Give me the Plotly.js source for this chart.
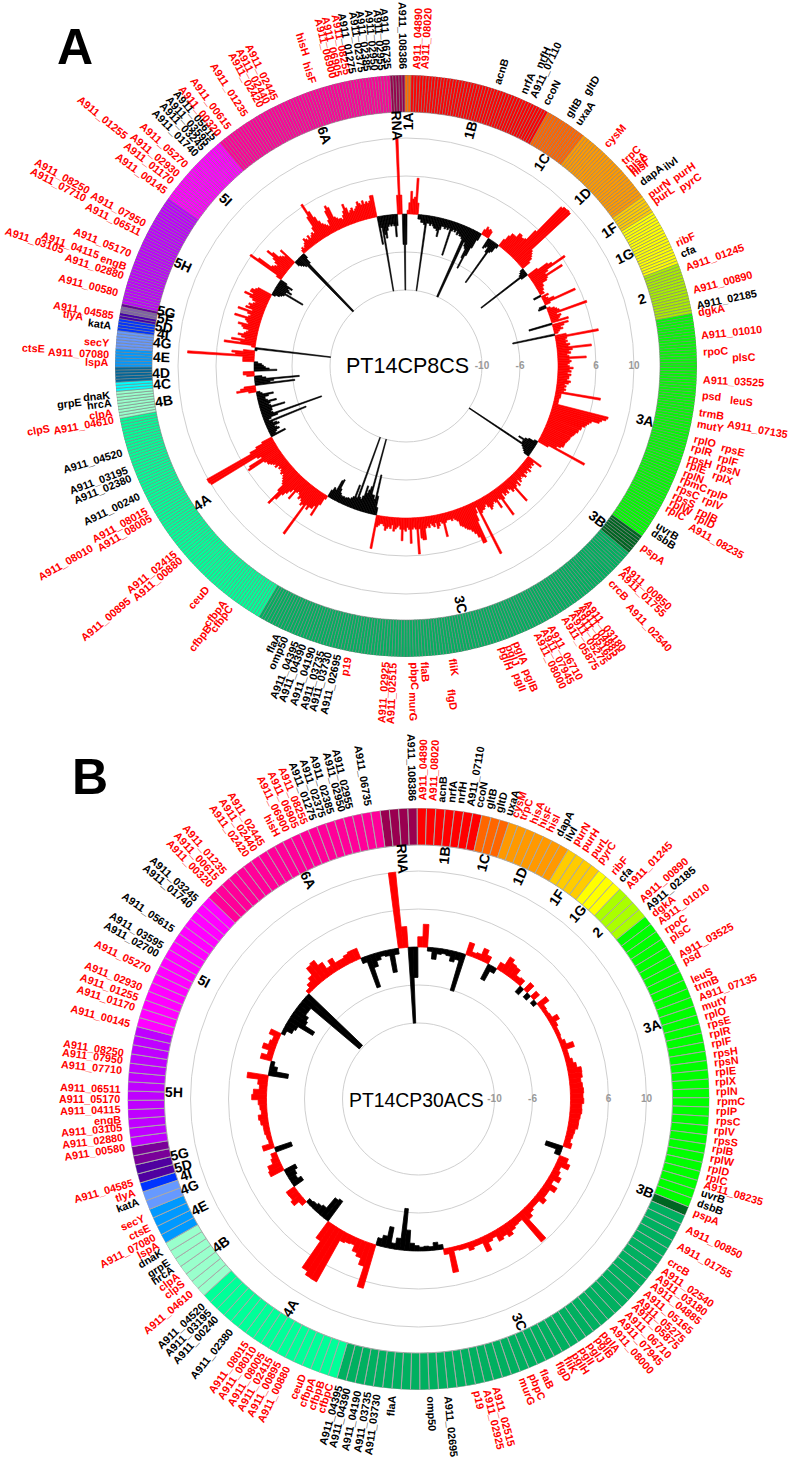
<!DOCTYPE html>
<html><head><meta charset="utf-8">
<script src="https://cdn.plot.ly/plotly-3.0.1.min.js"></script>
<style>html,body{margin:0;padding:0;background:#fff}#chart{width:790px;height:1460px}</style>
</head><body><div id="chart"></div>
<script>
// ---------- Panel A data ----------
const categoriesA=["RNA","1A","1B","1C","1D","1F","1G","2","3A","3B","3C","4A","4B","4C","4D","4E","4G","4I","5D","5F","5G","5H","5I","6A"];
const countsA=[5,2,47,14,28,6,19,17,77,7,134,82,9,3,5,6,6,4,2,2,1,38,25,61];
const colorsA=["#99004d","#ff6a00","#ff0000","#ff6600","#ff9900","#ffcc00","#ffff00","#aaee00","#00ff00","#006622","#00b060","#00ff99","#99ffcc","#00ffff","#006699","#0099ff","#6699ff","#0033ff","#4400aa","#8060a8","#660099","#bf00ff","#ff00ff","#ff0099"];
const catLabelsA=["RNA","1A","1B","1C","1D","1F","1G","2","3A","3B","3C","4A","4B","4C","4D","4E","4G","4I","5D","5F","5G","5H","5I","6A"];
const catAnglesA=[-2.2,.5,15.2,33.7,46.2,56.2,63.2,74.1,102.8,128.5,167,236.2,261.8,265.8,268.4,272.1,275.4,277.4,279.1,281,282.7,294.4,312.8,340.6];
const foldA=[
.5,2,.5,-.8,-2,-.8,.1,.3,.6,.4,
.45,.95,.3,-.12,-.12,-.2,-.2,-.25,-2,-.2,
-.2,-.25,-.2,-.25,-.3,-.3,-.35,-.5,-.3,-.2,
-.2,-.25,-.2,-.25,-.2,-.93,-.25,-.2,-.25,-.2,
-.3,-.25,-.3,-.3,-.35,-2,-2,-.4,-.5,-.55,
-.8,-1.09,-.7,-.45,-.2,.15,.25,.2,.23,.2,
-.3,-.25,-.2,-.35,-1.3,-.3,-.25,-.1,.22,.37,
.47,.47,.47,.6,.6,.55,.56,.6,.93,1.85,
1.9,1.9,1.92,1.9,.5,.45,.4,.35,.25,-.1,
-.15,-.2,-1.5,-.2,.3,.6,.7,1.08,.5,.4,
.89,.4,.35,.2,.2,.15,.15,.1,.12,-.21,
.2,.1,.15,.3,.89,.15,-.18,-.22,.1,.2,
.25,.3,1.05,.2,.3,.25,.2,.46,-.63,.43,
.3,.2,.25,.15,.1,-1.13,.3,1.15,.3,.25,
.3,.25,.35,.3,.91,.4,.3,.35,.25,.3,
.75,.3,.35,.3,.25,.3,.4,.3,.35,.25,
.35,.3,.3,.25,.35,.3,.2,.25,.2,.25,
.2,1.19,.15,.15,.15,.12,.12,.12,.12,1.49,
1.45,1.35,1.3,1.1,1.05,1,.97,.9,.9,.85,
.85,.8,.78,.75,.72,.72,.7,.68,.66,.66,
.66,.6,.5,1.36,.3,-.1,-.25,-.33,-.5,-.35,
-.35,-2,-.3,-.25,-.2,-.15,.43,.2,.25,.2,
.25,.2,.3,.2,.25,.2,.3,.25,.2,.25,
.3,.2,.35,.25,.3,.76,.3,.35,.25,.2,
.3,.25,.3,.2,.35,.83,.3,.25,.5,.3,
.25,.3,.35,.4,.3,.2,.25,.3,.3,.35,
1.53,.15,.3,.5,1.09,1.09,.9,.78,.7,.63,
.6,.55,.49,.45,.3,.25,.2,.25,.2,.2,
.2,.25,.62,.25,.2,.3,.36,.2,.3,.25,
.2,.3,.25,.3,.6,.6,.55,.3,.96,.3,
.25,.3,.67,.3,.25,.35,.3,.6,.3,.2,
.25,.3,.36,.2,.3,.25,.3,.36,.25,.2,
.2,.25,.3,.89,-.2,-.5,-1.06,-.4,-.5,-.5,
-2,-.7,-.6,-.5,-.69,-.4,-.3,-.35,-2,-.3,
-.64,-.3,-.25,-.2,-.22,-.2,-.18,-.2,-.18,-.2,
-.25,-.35,-.6,-.55,-.26,-.3,-.2,.1,.3,.66,
.4,.5,.5,.6,.5,1.46,.55,.6,.5,.45,
.5,.4,.35,.4,.66,.4,.5,.6,.7,.9,
1.11,.7,.5,.45,.4,.35,.3,.35,.3,.25,
.3,.25,.35,.3,.35,.4,.45,.45,.5,.97,
.9,.5,.6,2,2.03,2.03,.7,.5,.3,-.42,
-.15,-.2,-.3,-.25,-.2,-.35,-.3,-.2,-1.16,-.12,
-.2,-.4,-1.64,-.3,-.25,-.3,-.3,-.67,-.3,-.25,
-.3,-.48,-.25,-.2,-.2,-.3,-.44,-.15,-.1,.2,
.51,.4,.3,-1.05,-.4,-.5,-1.18,-.3,-.2,.2,
.29,.29,-.6,-.4,-.3,-.25,-.2,-.1,.3,.3,
.3,1.76,.5,.6,.3,-.06,-2,.1,.83,.4,
.65,.3,.4,.5,.35,.3,.25,.4,.45,.56,
.3,.35,.4,.71,.35,.3,.4,.68,.3,.5,
.4,.45,.35,.3,.4,.5,.67,.45,.55,.54,
.45,.4,-.1,-.2,-.25,-.3,-.84,-.3,-.45,-.35,
-.3,-.4,-.2,.15,1.03,.8,.4,.35,.3,.4,
.5,.74,.6,.4,.35,.3,.49,-.15,-.2,-.25,
-.3,-2,-2,-.3,-.15,.1,.15,.1,.15,.2,
.3,.25,.2,.3,.2,.25,.3,.25,.4,.7,
1.06,.8,.6,.45,.35,.3,.25,.2,.35,.6,
.72,.65,.35,.3,.25,.25,.2,.3,.4,.57,
.45,.3,.35,.4,.3,.35,.4,.51,.45,.4,
.5,.4,.45,.4,.45,.58,.58,-.74,-.3,-2,
-.5,-.6,-.4,-.3,-.25,-.3,-.25,-.3,-.59,-.3];
const geneNamesA=["A911_108386","A911_04890","A911_08020","acnB","nrfA","nrfH","A911_07110","ccoN","gltB","gltD","uxaA","cysM","trpC","hisA","hisF","hisI","dapA","ilvI","purN","purH","purL","pyrC","ribF","cfa","A911_01245","A911_00890","A911_02185","dgkA","A911_01010","rpoC","plsC",
"A911_03525","psd","leuS","trmB","mutY","A911_07135","rplO","rpsE","rplR","rplF","rpsH","rpsN","rplE","rplX","rplN","rpmC","rplP","rpsC","rplV","rpsS","rplB","rplW","rplD","rplC","A911_08235","uvrB","dsbB","pspA",
"A911_00850","A911_01755","crcB","A911_02540","A911_03180","A911_04885","A911_05165","A911_05275","A911_05875","A911_06710","A911_07945","A911_08000","pglA","pglB","pglJ","pglI","pglH","fliK","flgD","flaB","pbpC","murG","A911_02925","A911_02515","p19",
"A911_02695","A911_03730","A911_03735","A911_04190","A911_04390","A911_04395","omp50","flaA","cfbpC","cfbpB","cfbpA","ceuD","A911_00880","A911_02415","A911_00895","A911_08005","A911_08015","A911_08010","A911_00240","A911_02380","A911_03195","A911_04520",
"A911_04610","clpS","clpA","hrcA","dnaK","grpE","lspA","A911_07080","ctsE","secY","katA","tlyA","A911_04585","A911_00580","A911_02880","engB","A911_03105","A911_04115","A911_05170","A911_06511","A911_07950","A911_07710","A911_08250",
"A911_00145","A911_01170","A911_02930","A911_05270","A911_01255","A911_01740","A911_03245","A911_03595","A911_05615","A911_00320","A911_00615","A911_01235","A911_02420","A911_02440","A911_02445","hisF","hisH","A911_06900","A911_06905","A911_08255","A911_01275","A911_02375","A911_02385","A911_02950","A911_02955","A911_06735"];
const geneAnglesA=[-.6,1.9,3.5,17.8,23.2,23.9,25.2,28,32.9,33.5,35.2,42.1,46.8,48.5,49.2,49.8,52.1,52.6,54.8,55,56.3,57.1,65.5,67.8,70.5,75.2,78.2,79.7,84,87.3,88.4,
92.7,95.6,96,98.9,101.1,100.1,104.1,104.4,105.8,106.2,107.8,107.8,109.2,109.5,110.9,112.2,112.3,114,114,115.7,116.2,117.1,117.4,118.5,119.3,122.3,123.9,127.2,
132.5,133.9,136.4,137,142.4,143.7,144.8,146.2,147.8,150.9,152.4,153.9,158.1,158.3,159.7,160.1,161.1,170.9,172.1,176.3,178.3,178.8,184,182.5,191.2,
193.4,195.2,196.7,198.5,200.3,201.8,204,205.6,216.1,217.1,217.6,221.9,229.4,231,229.9,239.3,241,240,244.1,247.9,249.6,253.2,
259.6,260.1,261.1,262.9,264.4,263.7,270.8,272.3,272.8,274.4,277.9,278.7,279.9,284.4,287.8,289.5,288.7,289.8,292.2,296.6,298.7,297.6,299,
306.1,308.4,310.2,312.5,309.3,315.4,317,318.5,320,321.2,323.5,327.5,330.9,332.3,334,341.8,342.2,345.8,347.1,348.7,349.8,351.5,352.6,354,355.3,356.5];
const geneRowsA=[0,0,0,0,0,1,0,0,0,1,0,0,0,0,0,0,0,1,0,1,0,1,0,0,0,0,0,0,0,0,1,
0,0,1,0,0,1,0,1,0,1,0,1,0,1,0,0,1,0,1,0,1,0,1,0,1,0,0,0,
0,0,0,1,0,0,0,0,0,0,0,0,0,1,0,1,0,0,1,0,0,1,0,0,0,
0,0,0,0,0,0,0,0,0,1,0,0,0,0,2,0,0,2,0,0,0,0,
0,2,0,0,0,1,0,0,2,0,0,1,0,0,0,0,2,1,0,0,0,2,2,
0,0,0,0,2,0,0,0,0,0,0,0,0,0,0,0,1,0,0,0,0,0,0,0,0,0];

// ---------- Panel B data ----------
const categoriesB=["RNA","1B","1C","1D","1F","1G","2","3A","3B","3C","4A","4B","4E","4G","4I","5D","5G","5H","5I","6A"];
const countsB=[4,7,3,7,4,3,4,33,1,45,17,7,4,2,1,2,2,13,16,21];
const colorsB=["#990050","#ff0000","#ff6600","#ff9900","#ffcc00","#ffff00","#aaff00","#00ff00","#006622","#00b060","#00ff99","#99ffcc","#0099ff","#6699ff","#0033ff","#5000a0","#7a0099","#bf00ff","#ff00ff","#ff0099"];
const catLabelsB=["RNA","1B","1C","1D","1F","1G","2","3A","3B","3C","4A","4B","4E","4G","4I","5D","5G","5H","5I","6A"];
const catAnglesB=[-3.7,6.2,15.2,24.5,34.4,40.6,46.9,72.6,112.1,155.7,211.6,233.6,243.5,249,251.9,254.2,257.1,271.6,298.7,333.2];
const foldB=[
2,.55,-2,-.8,.27,.6,-.1,-.3,-.15,-.12,
-.15,-.28,-.2,-1.02,.34,.12,.15,.33,.2,-.44,
-.15,.2,.45,.35,.32,.15,.18,-.2,.25,-.15,
.2,-.12,.3,.12,.1,.12,.27,.15,.1,.1,
.08,.15,.33,.12,.12,.18,.25,.36,.35,.3,
.33,.35,.33,.35,.3,.31,.28,.26,.26,.2,
.18,.15,.21,-.46,-.15,.25,.35,.15,.2,.3,
.15,.34,.2,.2,.29,.15,.15,.2,.3,.96,
.18,.2,.25,.34,.25,.31,.15,.2,.41,.15,
.15,.21,.12,.12,.1,.66,.15,-.12,-.2,-.1,
-.12,-.1,-.14,-.2,-.54,-1.1,-.3,-.15,-.56,-.3,
-.2,1.19,.63,.45,.36,.2,.22,.26,1.51,1.5,
1.39,.54,-.65,-.6,-.25,-.2,-.15,-.12,.15,.31,
.25,.26,-.3,-.2,-.25,-.33,.39,.35,.2,.15,
-.46,.3,.1,.12,.15,.15,.2,.24,.15,.18,
.22,.39,.35,.2,.25,.55,-.52,-.2,-.1,.3,
.15,.33,.2,.15,.29,-.1,-.25,-.3,-.75,-.45,
-.4,-.3,-.3,-1.96,-1.96,.1,.2,.3,.53,.57,
.4,.2,.35,.2,.2,.25,.29,.29,-.15,-.88,
-.35,-.2,-.12,-.15,-.61,-.15];
const geneNamesB=["A911_108386","A911_04890","A911_08020","acnB","nrfA","nrfH","A911_07110","ccoN","gltB","gltD","uxaA","cysM","trpC","hisA","hisF","hisI","dapA","ilvI","purN","purH","purL","pyrC","ribF","cfa","A911_01245","A911_00890","A911_02185","dgkA","A911_01010","rpoC","plsC","A911_03525","psd","leuS","trmB","A911_07135","mutY",
"rplO","rpsE","rplR","rplF","rpsH","rpsN","rplE","rplX","rplN","rpmC","rplP","rpsC","rplV","rpsS","rplB","rplW","rplD","rplC","A911_08235","uvrB","dsbB","pspA","A911_00850","A911_01755","crcB","A911_02540","A911_03180","A911_04885","A911_05165","A911_05275","A911_05875","A911_06710","A911_07945","A911_08000",
"pglA","pglB","pglJ","pglI","pglH","fliK","flgD","flaB","pbpC","murG","A911_02515","A911_02925","p19","A911_02695","omp50","flaA","A911_03730","A911_03735","A911_04190","A911_04390","A911_04395","cfbpC","cfbpB","cfbpA","ceuD","A911_00880","A911_00895","A911_02415","A911_08005","A911_08010","A911_08015","A911_02380","A911_00240","A911_03195","A911_04520",
"A911_04610","clpS","clpA","hrcA","grpE","dnaK","lspA","A911_07080","ctsE","secY","katA","tlyA","A911_04585","A911_00580","A911_02880","A911_03105","engB","A911_04115","A911_05170","A911_06511","A911_07710","A911_07950","A911_08250","A911_00145","A911_01170","A911_01255","A911_02930","A911_05270","A911_02700","A911_03595","A911_05615","A911_01740","A911_03245","A911_00320","A911_00615","A911_01235","A911_02420","A911_02440","A911_02445","hisH","A911_06900","A911_06905","A911_08255","A911_01275","A911_02375","A911_02385","A911_02950","A911_02955","A911_06735"];
const geneAnglesB=[-1.2,.8,2.6,4.3,6.2,8,9.9,11.7,13.6,15.5,17.6,18.8,20.4,22.4,24.2,25.9,27.9,29.8,31.6,33.4,35.6,37.4,40.7,42.6,44.5,48.2,50.1,51.8,53.7,55.7,57.5,61,62.6,66.3,68.1,70.1,72,
73.9,75.7,77.5,79.3,81.2,83,84.8,86.7,88.5,90.4,92.2,94,95.9,97.7,99.5,101.4,103.2,105,106.6,108.2,110.2,112.3,115.7,119.4,122.8,125,126.7,128.3,130.4,132.2,133.8,135.7,137.5,139.4,
141.5,143.1,145,146.8,148.4,150.2,152,155.3,157.6,159.5,165,166.7,168.7,174.3,177.6,185.1,188,189.9,191.9,193.9,195.6,197.3,199,200.9,202.8,206.1,208.1,209.9,211.7,213.6,215.3,219.1,222.8,224.7,226.4,
229.7,232,233.8,235.5,237,239.2,240.9,242.5,244.5,246.6,249.9,251.8,253.7,260.8,262.7,264.6,266.2,268.1,270,271.9,275.6,277.5,279,284.7,288,290,292,295.7,299.1,300.9,304.7,310.3,312.1,315.8,317.6,319.4,324.8,326.7,328.5,332,333.9,335.7,337.6,339.4,341.3,343.1,345.1,346.7,350.3];
const blackGenesB=["A911_108386","acnB","nrfA","nrfH","A911_07110","ccoN","gltB","gltD","uxaA","dapA","ilvI","cfa","A911_02185","uvrB","dsbB","A911_02695","omp50","flaA","A911_03730","A911_03735","A911_04190","A911_04390","A911_04395","A911_02380","A911_00240","A911_03195","A911_04520","hrcA","grpE","dnaK","katA","A911_02700","A911_03595","A911_05615","A911_01740","A911_03245","A911_01275","A911_02375","A911_02385","A911_02950","A911_02955","A911_06735"];
const blackGenesA=["A911_108386","acnB","nrfA","nrfH","A911_07110","ccoN","gltB","gltD","uxaA","dapA","ilvI","cfa","A911_02185","uvrB","dsbB","A911_02695","A911_03730","A911_03735","A911_04190","A911_04390","A911_04395","omp50","flaA","A911_00240","A911_02380","A911_03195","A911_04520","hrcA","dnaK","grpE","katA","A911_01740","A911_03245","A911_03595","A911_05615","A911_01275","A911_02375","A911_02385","A911_02950","A911_02955","A911_06735"];

const tickVals=[-2,-1,1,2];
const tickText=["-10","-6","6","10"];

// ---------- Layout helpers ----------
const W=790,H=1460,R=291;
const panels=[
 {id:"polar",cx:406,cy:366,start:-3.2,line:"#7f7f7f",lw:.6,cat:categoriesA,cnt:countsA,col:colorsA,fold:foldA,
  catL:catLabelsA,catA:catAnglesA,names:geneNamesA,angs:geneAnglesA,rows:geneRowsA,black:blackGenesA,
  title:"PT14CP8CS",tx:407,ty:366.5,tf:21.5,letter:"A",lx:75,ly:47,barLine:.6},
 {id:"polar2",cx:418.5,cy:1099,start:-7.6,line:"#a8a8a8",lw:1,cat:categoriesB,cnt:countsB,col:colorsB,fold:foldB,
  catL:catLabelsB,catA:catAnglesB,names:geneNamesB,angs:geneAnglesB,rows:null,black:blackGenesB,
  title:"PT14CP30ACS",tx:416,ty:1100,tf:19.4,letter:"B",lx:90,ly:777,barLine:.8}
];
const rowRadius=[297,326,362];
const family='"Liberation Sans",Arial,sans-serif';
const ctx=document.createElement("canvas").getContext("2d");
ctx.font='bold 10.8px "Liberation Sans"';
const traces=[],annotations=[];
const layout={width:W,height:H,margin:{l:0,r:0,t:0,b:0},paper_bgcolor:"#fff",showlegend:false,font:{family}};
function radial(p,theta,r,text,size,color,weight){
  const a=theta*Math.PI/180;
  const th=((theta%360)+360)%360;
  annotations.push({xref:"paper",yref:"paper",x:(p.cx+Math.sin(a)*r)/W,y:1-(p.cy-Math.cos(a)*r)/H,
    text:text,showarrow:false,xanchor:"center",yanchor:"middle",borderpad:0,
    textangle:th<180?th-90:th-270,font:{family,size,color,weight}});
}
panels.forEach(p=>{
  const N=p.fold.length,w=360/N,thetas=p.fold.map((_,i)=>p.start+w*(i+.5));
  const segColors=[];p.cnt.forEach((c,k)=>{for(let j=0;j<c;j++)segColors.push(p.col[k]);});
  layout[p.id]={domain:{x:[(p.cx-R)/W,(p.cx+R)/W],y:[1-(p.cy+R)/H,1-(p.cy-R)/H]},bgcolor:"rgba(0,0,0,0)",barmode:"overlay",bargap:0,
    angularaxis:{rotation:90,direction:"clockwise",thetaunit:"degrees",showgrid:false,showline:false,showticklabels:false,ticks:""},
    radialaxis:{range:[-4,3.658],tickvals:tickVals,showticklabels:false,ticks:"",showline:false,showgrid:true,gridcolor:"#cfcfcf",gridwidth:1,angle:90,layer:"below traces"}};
  traces.push({type:"barpolar",subplot:p.id,theta:thetas,r:p.fold.map(()=>.974),base:p.fold.map(()=>2.684),width:w,
    marker:{color:segColors,line:{color:p.line,width:p.lw}},hoverinfo:"skip"});
  const barCol=p.fold.map(v=>v<0?"#000000":"#ff0000");
  traces.push({type:"barpolar",subplot:p.id,theta:thetas,r:p.fold,base:p.fold.map(()=>0),width:w,
    marker:{color:barCol,line:{color:barCol,width:p.barLine}},hoverinfo:"skip"});
  traces.push({type:"scatterpolar",subplot:p.id,mode:"text",r:tickVals,theta:tickVals.map(()=>90),text:tickText,
    textposition:"middle center",textfont:{family,size:10,color:"#999999",weight:"bold"},hoverinfo:"skip"});
  p.catL.forEach((t,i)=>radial(p,p.catA[i],t==="RNA"?241:245,t,14,"#000","bold"));
  p.names.forEach((t,i)=>{
    const r0=p.rows?rowRadius[p.rows[i]]:298;
    const len=ctx.measureText(t).width;
    radial(p,p.angs[i],r0+len/2,t,10.8,p.black.includes(t)?"#000":"#ff0000","bold");
  });
  annotations.push({xref:"paper",yref:"paper",x:p.tx/W,y:1-p.ty/H,text:p.title,showarrow:false,xanchor:"center",yanchor:"middle",font:{family,size:p.tf,color:"#000"}});
  annotations.push({xref:"paper",yref:"paper",x:p.lx/W,y:1-p.ly/H,text:p.letter,showarrow:false,xanchor:"center",yanchor:"middle",font:{family,size:50,color:"#000",weight:"bold"}});
});
layout.annotations=annotations;
Plotly.newPlot("chart",traces,layout,{displayModeBar:false,responsive:false});
</script></body></html>
